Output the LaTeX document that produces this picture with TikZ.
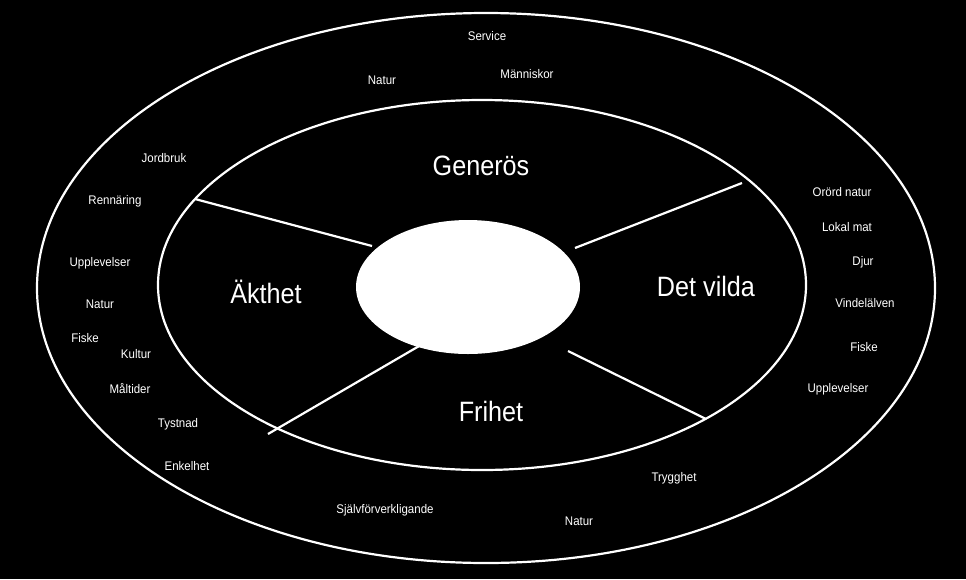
\documentclass[tikz,border=0pt]{standalone}
\usepackage{fontspec}
\setmainfont{Liberation Sans}
\begin{document}
\begin{tikzpicture}[x=1pt,y=-1pt,
 sm/.style={text=white,font=\fontsize{12.5}{14}\selectfont,xscale=0.92,inner sep=0},
 bg/.style={text=white,font=\fontsize{28}{32}\selectfont,xscale=0.9,inner sep=0},
 ln/.style={white,line width=2.2pt}]
\fill[black] (0,0) rectangle (966,579);
\useasboundingbox (0,0) rectangle (966,579);
\draw[ln] (486,288) ellipse [x radius=449,y radius=275];
\draw[ln] (482,285) ellipse [x radius=324,y radius=185];
\fill[white] (468,287) ellipse [x radius=112,y radius=67];
\coordinate (a1) at (195,199); \coordinate (a2) at (372,246);
\coordinate (b1) at (742,183); \coordinate (b2) at (575,248);
\coordinate (c1) at (268,434); \coordinate (c2) at (426,342);
\coordinate (d1) at (706,419); \coordinate (d2) at (568,351);
\draw[ln] (a1)--(a2); \draw[ln] (b1)--(b2); \draw[ln] (c1)--(c2); \draw[ln] (d1)--(d2);
\node[bg] (g) at (481,166) {Generös};
\node[bg] (ak) at (266,292) {Äkthet};
\node[bg] (dv) at (706,286) {Det vilda};
\node[bg] (fr) at (491,411) {Frihet};
\node[sm] (t1) at (487,36) {Service};
\node[sm] (t2) at (382,80) {Natur};
\node[sm] (t3) at (527,74) {Människor};
\node[sm] (t4) at (164,158) {Jordbruk};
\node[sm] (t5) at (115,201) {Rennäring};
\node[sm] (t6) at (100,263) {Upplevelser};
\node[sm] (t7) at (100,304) {Natur};
\node[sm] (t8) at (85,338) {Fiske};
\node[sm] (t9) at (136,354) {Kultur};
\node[sm] (t10) at (130,389) {Måltider};
\node[sm] (t11) at (178,424) {Tystnad};
\node[sm] (t12) at (187,466) {Enkelhet};
\node[sm] (t13) at (385,510) {Självförverkligande};
\node[sm] (t14) at (579,521) {Natur};
\node[sm] (t15) at (674,478) {Trygghet};
\node[sm] (t16) at (838,389) {Upplevelser};
\node[sm] (t17) at (864,347) {Fiske};
\node[sm] (t18) at (865,303) {Vindelälven};
\node[sm] (t19) at (863,262) {Djur};
\node[sm] (t20) at (847,227) {Lokal mat};
\node[sm] (t21) at (842,192) {Orörd natur};
\end{tikzpicture}
\end{document}
